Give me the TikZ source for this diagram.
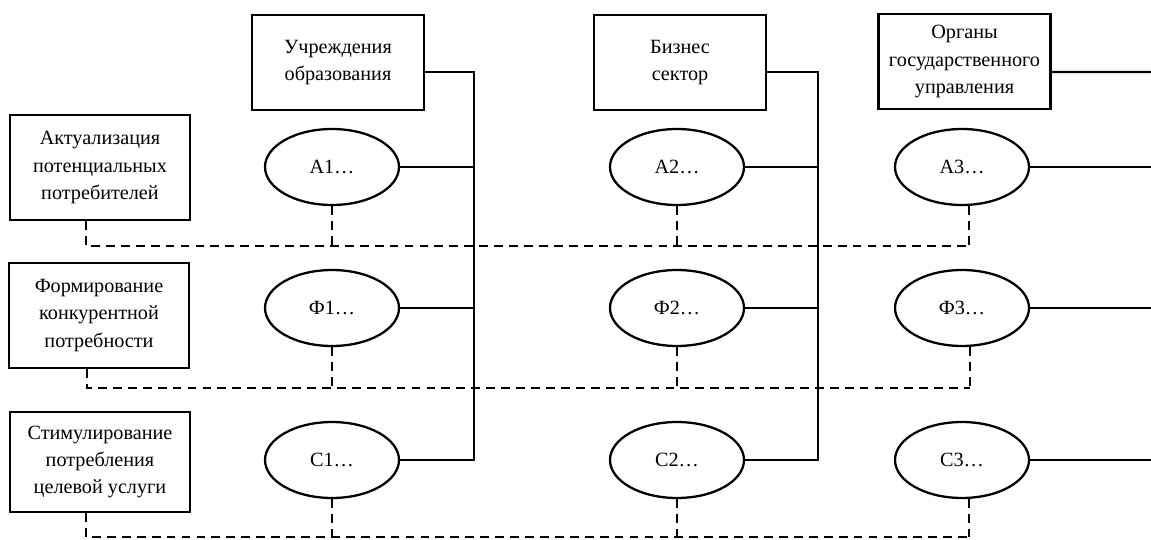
\documentclass[tikz,border=0pt]{standalone}
\usepackage{fontspec}
\setmainfont{Liberation Serif}
\usetikzlibrary{shapes}

\begin{document}
\begin{tikzpicture}[x=0.02cm,y=-0.02cm,
        box/.style={draw,line width=1.3pt,align=center,inner sep=0pt,font=\fontsize{11.5}{15.4}\selectfont},
        topbox/.style={box,minimum width=3.44cm,minimum height=1.9cm},
        leftbox/.style={box,minimum width=3.6cm,minimum height=2.1cm},
        oval/.style={draw,ellipse,line width=1.3pt,minimum width=2.68cm,minimum height=1.52cm,inner sep=0pt,font=\fontsize{11.5}{15.4}\selectfont},
        link/.style={line width=1.3pt},
        dashline/.style={line width=1.3pt,dash pattern=on 5pt off 3.5pt}]
    \useasboundingbox (0,0) rectangle (1151,540);

    % subjects
    \node[topbox] (edu) at (338,62.5) {Учреждения\\образования};
    \node[topbox] (biz) at (680,62.5) {Бизнес\\сектор};
    \node[topbox] (gov) at (964.5,61.5) {Органы\\государственного\\управления};

    % stages
    \node[leftbox] (act) at (100,167.5) {Актуализация\\потенциальных\\потребителей};
    \node[leftbox] (form) at (99,315.5) {Формирование\\конкурентной\\потребности};
    \node[leftbox,minimum height=2cm] (stim) at (100,462) {Стимулирование\\потребления\\целевой услуги};

    \foreach \x/\n in {332/1,677/2,962/3}{
        \node[oval] (a\n) at (\x,167) {А\n…};
        \node[oval] (f\n) at (\x,308) {Ф\n…};
        \node[oval] (c\n) at (\x,460) {С\n…};
    }

    % solid links
    \coordinate (v1) at (474,460);
    \coordinate (v2) at (818,460);
    \coordinate (e0) at (1151,72);
    \draw[link] ([yshift=-0.19cm]edu.east) -| (v1) -- (c1.east);
    \draw[link] ([yshift=-0.19cm]biz.east) -| (v2) -- (c2.east);
    \draw[link] ([yshift=-0.21cm]gov.east) -- (e0);
    \foreach \r in {a,f}{
        \draw[link] (\r1.east) -- (\r1.east -| v1);
        \draw[link] (\r2.east) -- (\r2.east -| v2);
    }
    \foreach \r in {a,f,c}{
        \draw[link] (\r3.east) -- (\r3.east -| e0);
    }

    % dashed rows
    \coordinate (r1) at (969,246);
    \coordinate (r2) at (970,388);
    \coordinate (r3) at (969,537);
    \draw[dashline] ([xshift=-0.28cm]act.south) |- (r1);
    \draw[dashline] ([xshift=-0.24cm]form.south) |- (r2);
    \draw[dashline] ([xshift=-0.28cm]stim.south) |- (r3);
    \foreach \r/\k in {a/1,f/2,c/3}{
        \draw[dashline] (\r1.south) -- (\r1.south |- r\k);
        \draw[dashline] (\r2.south) -- (\r2.south |- r\k);
        \draw[dashline] (\r3.south -| r\k) -- (r\k);
    }
\end{tikzpicture}
\end{document}
